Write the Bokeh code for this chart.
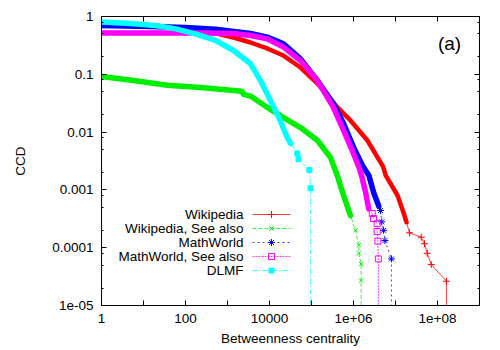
from bokeh.plotting import figure
from bokeh.models import Range1d, FixedTicker, CustomJSTickFormatter, LinearAxis
from bokeh.core.properties import value
from bokeh.embed import file_html
from bokeh.resources import INLINE

# ---------------- data ----------------
# Wikipedia (red)
wp_x = [1, 14.7, 100, 518, 1390, 3530, 8800, 21500, 54700, 1.39e5, 4.16e5, 8.48e5,
        2.15e6, 5.1e6, 5.8e6, 1.12e7, 1.55e7, 1.83e7]
wp_y = [0.73, 0.67, 0.62, 0.51, 0.433, 0.355, 0.28, 0.211, 0.131, 0.0693, 0.0267, 0.0159,
        0.00716, 0.0025, 0.0018, 8.0e-4, 4.07e-4, 2.76e-4]
wp_tail_x = [2.15e7, 4.1e7, 4.9e7, 5.7e7, 7.1e7, 1.63e8]
wp_tail_y = [1.81e-4, 1.52e-4, 1.17e-4, 8.0e-5, 5.1e-5, 2.63e-5]

# Wikipedia, See also (green)
wps_x = [1, 5.8, 37, 228, 1390, 2200, 2400, 3530, 8900, 21500, 54700, 1.39e5, 2.84e5,
         4.1e5, 5.8e5, 8.5e5]
wps_y = [0.0916, 0.078, 0.0645, 0.059, 0.0525, 0.051, 0.045, 0.042, 0.0267, 0.0178, 0.012,
         0.00716, 0.00363, 0.00178, 8.0e-4, 3.6e-4]
wps_tail_x = [1.12e6, 1.34e6, 1.34e6, 1.52e6, 1.52e6]
wps_tail_y = [2.0e-4, 1.1e-4, 8.0e-5, 5.2e-5, 2.7e-5]

# MathWorld (blue)
mw_x = [1, 14.7, 100, 518, 3530, 8800, 21500, 54700, 1.38e5, 3.3e5, 5.8e5, 1.0e6, 1.7e6,
        2.33e6, 3.0e6, 4.0e6]
mw_y = [0.70, 0.67, 0.645, 0.60, 0.51, 0.44, 0.337, 0.185, 0.078, 0.0313, 0.0141, 0.0055,
        0.0025, 0.00178, 9.1e-4, 5.2e-4]
mw_tail_x = [4.4e6, 4.7e6, 5.2e6, 5.6e6, 8.0e6]
mw_tail_y = [4.4e-4, 2.8e-4, 2.0e-4, 1.33e-4, 6.4e-5]

# MathWorld, See also (magenta)
mws_x = [1, 228, 1390, 3530, 8800, 21500, 54700, 1.38e5, 3.3e5, 5.8e5, 9.3e5, 1.34e6,
         1.55e6, 1.94e6, 2.3e6]
mws_y = [0.52, 0.52, 0.51, 0.47, 0.41, 0.295, 0.173, 0.078, 0.027, 0.0107, 0.0048, 0.0025,
         0.00178, 9.1e-4, 4.7e-4]
mws_tail_x = [2.8e6, 3.0e6, 3.65e6, 3.65e6, 3.8e6, 3.9e6]
mws_tail_y = [3.9e-4, 3.2e-4, 2.6e-4, 1.9e-4, 1.3e-4, 6.4e-5]

# DLMF (cyan)
dl_x = [1, 4.9, 19.3, 58, 173, 518, 1390, 3530, 6100, 10500, 18000, 26000, 32000]
dl_y = [0.80, 0.757, 0.70, 0.61, 0.50, 0.385, 0.258, 0.152, 0.078, 0.035, 0.0159, 0.0082,
        0.00635]
dl_tail_x = [46000, 49000, 89000, 95000]
dl_tail_y = [0.00426, 0.0034, 0.0022, 0.00107]

series_names = ["Wikipedia", "Wikipedia, See also", "MathWorld", "MathWorld, See also", "DLMF"]

x_tick_values = [1, 10, 100, 1e3, 1e4, 1e5, 1e6, 1e7, 1e8]
x_tick_labels = ["1", "", "100", "", "10000", "", "1e+06", "", "1e+08"]
y_tick_values = [1e-5, 1e-4, 1e-3, 1e-2, 1e-1, 1]
y_tick_labels = ["1e-05", "0.0001", "0.001", "0.01", "0.1", "1"]

x_title = "Betweenness centrality"
y_title = "CCD"
panel_tag = "(a)"

# ---------------- layout ----------------
FONT = "Liberation Sans"
FS = "13.5px"
X_LO, X_HI = 0, 9      # decades
Y_LO, Y_HI = -5, 0
FRAME_W, FRAME_H = 378, 289
BL, BR, BT, BB = 101, 13, 16, 45
W, H = BL + FRAME_W + BR, BT + FRAME_H + BB

p = figure(width=W, height=H, x_axis_type="log", y_axis_type="log",
           x_range=Range1d(10 ** X_LO, 10 ** X_HI), y_range=Range1d(10 ** Y_LO, 10 ** Y_HI),
           output_backend="svg", toolbar_location=None,
           min_border_left=BL, min_border_right=BR, min_border_top=BT, min_border_bottom=BB)
p.xgrid.visible = False
p.ygrid.visible = False
p.outline_line_color = "black"
p.outline_line_width = 1
p.background_fill_color = "white"
p.border_fill_color = "white"

y_minor = [m * 10 ** e for e in range(Y_LO, Y_HI) for m in (2, 5, 8)]
xt = FixedTicker(ticks=x_tick_values, minor_ticks=[])
yt = FixedTicker(ticks=y_tick_values, minor_ticks=y_minor)

fmt_code = """
const lt = Math.log10(tick);
for (let i = 0; i < vals.length; i++) {
  if (Math.abs(Math.log10(vals[i]) - lt) < 1e-6) return labels[i];
}
return "";
"""
xfmt = CustomJSTickFormatter(args=dict(vals=x_tick_values, labels=x_tick_labels), code=fmt_code)
yfmt = CustomJSTickFormatter(args=dict(vals=y_tick_values, labels=y_tick_labels), code=fmt_code)
blank = CustomJSTickFormatter(code="return '';")


def style_axis(ax, major_in):
    ax.major_tick_in = major_in
    ax.major_tick_out = 0
    ax.minor_tick_in = 3
    ax.minor_tick_out = 0
    ax.axis_line_color = "black"
    ax.major_tick_line_color = "black"
    ax.minor_tick_line_color = "black"
    ax.major_label_text_font = FONT
    ax.major_label_text_font_size = FS
    ax.major_label_text_color = "black"
    ax.axis_label_text_font = FONT
    ax.axis_label_text_font_size = FS
    ax.axis_label_text_font_style = "normal"
    ax.axis_label_text_color = "black"


xa = p.xaxis[0]
xa.ticker = xt
xa.formatter = xfmt
style_axis(xa, 5)
xa.major_label_standoff = 8
xa.axis_label = x_title
xa.axis_label_standoff = 5

ya = p.yaxis[0]
ya.ticker = yt
ya.formatter = yfmt
style_axis(ya, 5)
ya.minor_tick_in = 2
ya.major_label_standoff = 8
ya.axis_label = y_title
ya.axis_label_standoff = 21

top = LinearAxis(ticker=xt, formatter=blank)
style_axis(top, 5)
top.major_label_text_font_size = "0px"
top.major_label_standoff = 0
p.add_layout(top, "above")

right = LinearAxis(ticker=yt, formatter=blank)
style_axis(right, 5)
right.minor_tick_in = 2
right.major_label_text_font_size = "0px"
right.major_label_standoff = 0
p.add_layout(right, "right")

FLOOR = 10 ** (Y_LO - 1)  # drop-off of each curve below the axis


def series(x, y, tx, ty, color, thick, dash, marker, msize, fill):
    allx = x + tx + [tx[-1]]
    ally = y + ty + [FLOOR]
    p.line(allx, ally, line_color=color, line_width=1, line_alpha=0.75, line_dash=dash)
    p.line(x, y, line_color=color, line_width=thick, line_join="round", line_cap="round")
    p.scatter(tx, ty, marker=marker, size=msize, line_color=color,
              fill_color=color if fill else None, line_width=1)


styles = [
    ("#ff0000", 4.5, "solid", "cross", 7, False),
    ("#00ee00", 5.5, "4 2", "x", 6, False),
    ("#0000ff", 5.5, "2 3", "asterisk", 7, False),
    ("#ff00ff", 5.5, "2 1", "square", 6, False),
    ("#00ffff", 5.5, "5 2 1 2", "square", 5, True),
]
data = [(wp_x, wp_y, wp_tail_x, wp_tail_y), (wps_x, wps_y, wps_tail_x, wps_tail_y),
        (mw_x, mw_y, mw_tail_x, mw_tail_y), (mws_x, mws_y, mws_tail_x, mws_tail_y),
        (dl_x, dl_y, dl_tail_x, dl_tail_y)]
for d, s in zip(data, styles):
    series(*d, *s)


# legend (gnuplot style: label right-aligned, sample to its right)
def sx(dx):
    return 10 ** (X_LO + dx / FRAME_W * (X_HI - X_LO))


def sy(dy):
    return 10 ** (Y_HI - dy / FRAME_H * (Y_HI - Y_LO))


row0, row_step = 198, 14
for i, (name, s) in enumerate(zip(series_names, styles)):
    color, thick, dash, marker, msize, fill = s
    yy = sy(row0 + i * row_step)
    p.text(x=[sx(142)], y=[yy], text=[name], text_font=value(FONT), text_font_size=value(FS),
           text_align="right", text_baseline="middle", text_color="black")
    p.line([sx(151), sx(189)], [yy, yy], line_color=color, line_width=1, line_alpha=0.75,
           line_dash=dash)
    p.scatter([sx(170)], [yy], marker=marker, size=msize, line_color=color,
              fill_color=color if fill else None, line_width=1)

p.text(x=[sx(348)], y=[sy(27)], text=[panel_tag], text_font=value(FONT),
       text_font_size=value("19px"), text_align="center", text_baseline="middle",
       text_color="black")

open("out.html", "w").write(file_html(p, INLINE))
